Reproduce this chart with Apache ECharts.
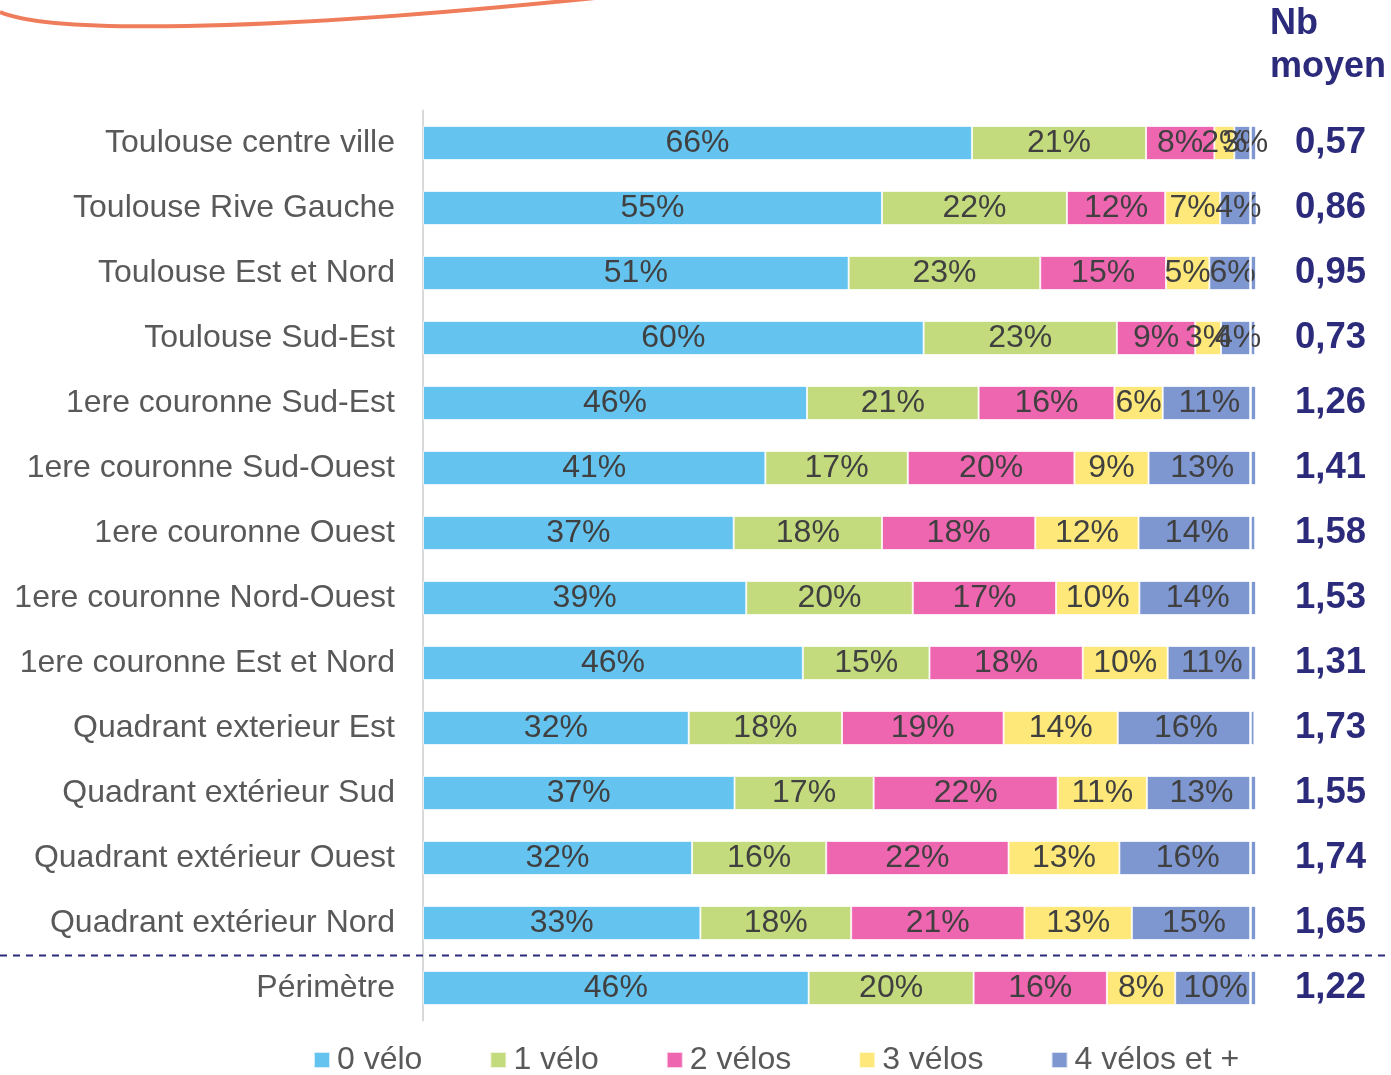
<!DOCTYPE html>
<html>
<head>
<meta charset="utf-8">
<script src="https://cdn.jsdelivr.net/npm/echarts@6/dist/echarts.min.js"></script>
<style>
html,body{margin:0;padding:0;background:#fff;}
#c{width:1391px;height:1075px;}
</style>
</head>
<body>
<div id="c"></div>
<script>
const categories = [
  'Toulouse centre ville', 'Toulouse Rive Gauche', 'Toulouse Est et Nord', 'Toulouse Sud-Est',
  '1ere couronne Sud-Est', '1ere couronne Sud-Ouest', '1ere couronne Ouest', '1ere couronne Nord-Ouest',
  '1ere couronne Est et Nord', 'Quadrant exterieur Est', 'Quadrant extérieur Sud', 'Quadrant extérieur Ouest',
  'Quadrant extérieur Nord', 'Périmètre'
];
const seriesNames = ['0 vélo', '1 vélo', '2 vélos', '3 vélos', '4 vélos et +'];
const velo0 = [65.9, 55.1, 51.1, 60.1, 46.1, 41.1, 37.3, 38.8, 45.6, 31.9, 37.4, 32.3, 33.3, 46.3];
const velo1 = [20.9, 22.2, 23.0, 23.2, 20.6, 17.1, 17.8, 20.0, 15.2, 18.4, 16.7, 16.1, 18.1, 19.8];
const velo2 = [8.2, 11.8, 15.1, 9.4, 16.3, 20.0, 18.4, 17.2, 18.4, 19.4, 22.1, 21.9, 20.8, 16.0];
const velo3 = [2.4, 6.6, 5.2, 3.1, 5.8, 8.9, 12.4, 10.0, 10.2, 13.7, 10.7, 13.3, 12.9, 8.2];
const velo4 = [2.6, 4.4, 5.6, 4.1, 11.2, 12.9, 14.0, 14.0, 10.6, 16.4, 13.1, 16.4, 14.9, 9.7];
const nbMoyen = ['0,57', '0,86', '0,95', '0,73', '1,26', '1,41', '1,58', '1,53', '1,31', '1,73', '1,55', '1,74', '1,65', '1,22'];

const colors = ['#64C4EF', '#C4DB7D', '#EF66B0', '#FDE879', '#7E97D0'];
const values = [velo0, velo1, velo2, velo3, velo4];
const FONT = '"Liberation Sans", Arial, sans-serif';
const NAVY = '#2B2A7B';
const GREY = '#595959';

const chart = echarts.init(document.getElementById('c'), null, {renderer: 'canvas'});

const series = seriesNames.map((name, i) => {
  const s = {
    name: name,
    type: 'bar',
    stack: 'total',
    barWidth: 34,
    data: values[i],
    itemStyle: {color: colors[i], borderColor: 'rgba(255,255,255,0.7)', borderWidth: 1},
    label: {
      show: true,
      position: 'inside',
      color: '#404040',
      fontFamily: FONT,
      fontSize: 32,
      formatter: p => Math.round(p.value) + '%'
    },
    emphasis: {disabled: true}
  };
  if (i === seriesNames.length - 1) {
    s.markLine = {
      silent: true,
      symbol: 'none',
      label: {show: false},
      lineStyle: {color: '#ffffff', width: 2.5, type: 'solid'},
      data: [{xAxis: 99.3}]
    };
  }
  return s;
});

chart.setOption({
  animation: false,
  backgroundColor: '#ffffff',
  title: {
    text: 'Nb\nmoyen',
    left: 1270,
    top: 3,
    padding: 0,
    textStyle: {fontFamily: FONT, fontSize: 36, fontWeight: 'bold', color: NAVY, lineHeight: 43}
  },
  legend: {
    data: seriesNames,
    left: 313,
    top: 1044,
    padding: 0,
    itemWidth: 16,
    itemHeight: 16,
    itemGap: 67,
    icon: 'rect',
    textStyle: {fontFamily: FONT, fontSize: 32, color: GREY, padding: [0, 0, 0, 2]}
  },
  grid: {left: 423, right: 135, top: 110.5, bottom: 54.5, containLabel: false, outerBoundsMode: 'none'},
  xAxis: {type: 'value', min: 0, max: 100, show: false},
  yAxis: [
    {
      type: 'category',
      data: categories,
      inverse: true,
      axisLine: {show: true, lineStyle: {color: '#D9D9D9', width: 2}},
      axisTick: {show: false},
      splitLine: {show: false},
      axisLabel: {fontFamily: FONT, fontSize: 32, color: GREY, margin: 28, padding: [3, 0, 0, 0]}
    },
    {
      type: 'category',
      data: nbMoyen,
      inverse: true,
      position: 'right',
      axisLine: {show: false},
      axisTick: {show: false},
      splitLine: {show: false},
      axisLabel: {fontFamily: FONT, fontSize: 36.5, fontWeight: 'bold', color: NAVY, margin: 39, padding: [3, 0, 0, 0]}
    }
  ],
  series: series
});

// separator line between the last district and the whole perimeter
const yA = chart.convertToPixel({yAxisIndex: 0}, categories[categories.length - 2]);
const yB = chart.convertToPixel({yAxisIndex: 0}, categories[categories.length - 1]);
const ySep = (yA + yB) / 2;

chart.setOption({
  graphic: [
    {
      type: 'line',
      z: 1,
      shape: {x1: 0, y1: ySep, x2: 1387, y2: ySep},
      style: {stroke: NAVY, lineWidth: 2, lineDash: [7, 6]}
    },
    {
      type: 'bezierCurve',
      shape: {x1: 0, y1: 12, cpx1: 50, cpy1: 33, cpx2: 250, cpy2: 33, x2: 595, y2: -2},
      style: {stroke: '#EF7D5B', lineWidth: 4, fill: null}
    }
  ]
});
</script>
</body>
</html>
